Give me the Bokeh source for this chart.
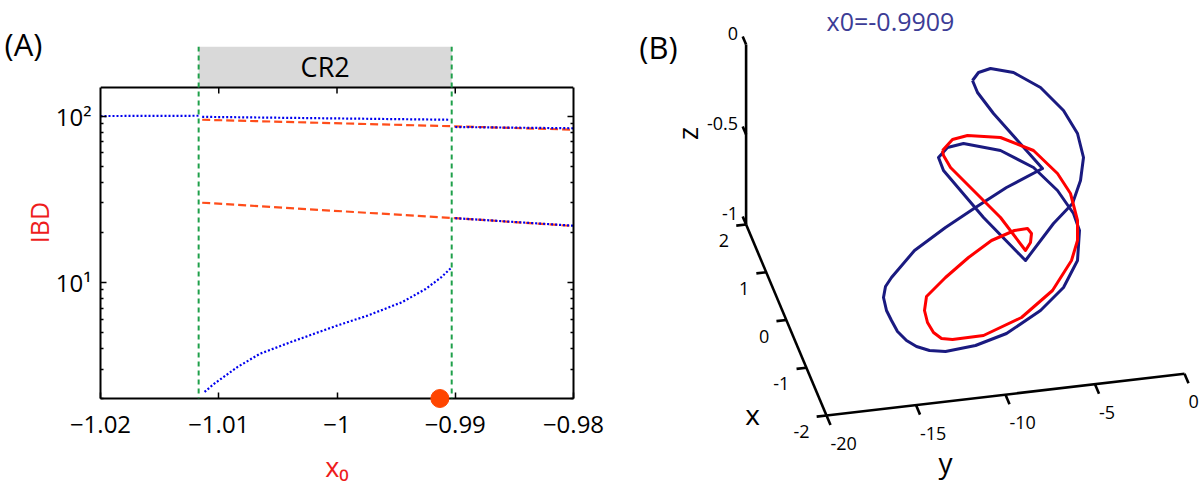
import math
from bokeh.plotting import figure
from bokeh.models import Range1d, LogAxis, FixedTicker, Span, Label, LinearScale
from bokeh.embed import file_html
from bokeh.resources import INLINE
from bokeh.core.properties import value

FONT = "Open Sans"

# ---------------- Panel A data ----------------
x0_ticks = [-1.02, -1.01, -1.00, -0.99, -0.98]
x0_tick_labels = ["−1.02", "−1.01", "−1", "−0.99", "−0.98"]
ibd_ticks = [10, 100]
ibd_tick_labels = ["10¹", "10²"]
ibd_minor_ticks = [2, 3, 4, 5, 6, 7, 8, 9, 20, 30, 40, 50, 60, 70, 80, 90]
ibd_limits = [2.0, 148.5]
band_top = 262.0
cr2_bounds = [-1.0117, -0.9903]
x0_marked = -0.9913

blue_upper_1_x = [-1.0200, -1.0117]
blue_upper_1_y = [100.0, 100.4]
blue_upper_2_x = [-1.0114, -0.9905]
blue_upper_2_y = [98.9, 95.0]
blue_upper_3_x = [-0.9900, -0.9800]
blue_upper_3_y = [85.9, 84.4]
blue_lower_1_x = [-1.0112, -1.0104, -1.0084, -1.0065, -1.0039, -1.0000,
                  -0.9974, -0.9945, -0.9925, -0.9912, -0.9903]
blue_lower_1_y = [2.19, 2.45, 3.10, 3.72, 4.37, 5.49, 6.31, 7.59, 9.12, 10.7, 12.3]
blue_lower_2_x = [-0.9900, -0.9800]
blue_lower_2_y = [24.3, 21.9]
orange_upper_x = [-1.0114, -0.9900, -0.9800]
orange_upper_y = [95.0, 86.7, 82.8]
orange_lower_x = [-1.0114, -0.9900, -0.9800]
orange_lower_y = [30.1, 24.3, 21.8]

# ---------------- Panel B data ----------------
xb_ticks = [-2, -1, 0, 1, 2]
yb_ticks = [-20, -15, -10, -5, 0]
zb_ticks = [-1, -0.5, 0]
xb_lim = [-2, 2]
yb_lim = [-20, 0]
zb_lim = [-1, 0]
title_b = "x0=-0.9909"
# projected orbits in the view plane (origin at the x=-2, y=-20, z=-1 corner)
blue_orbit_u = [146, 152, 164, 187, 214, 237, 251, 257, 254, 246, 227, 199, 157, 117, 112,
                121, 137, 174, 207, 231, 247, 253, 251, 237, 214, 180, 149, 119, 103,
                90, 80, 71, 65, 60, 57, 59, 65, 88, 119, 149, 180, 216, 191, 167, 151, 146]
blue_orbit_v = [335, 343, 347, 343, 328, 305, 282, 258, 235, 212, 192, 155, 198, 245, 258,
                268, 272, 265, 248, 225, 202, 185, 155, 128, 105, 82, 70, 64, 65,
                69, 75, 84, 95, 105, 118, 129, 138, 165, 188, 208, 228, 247, 275, 302, 323, 335]
red_orbit_u = [116, 126, 141, 174, 207, 231, 244, 251, 251, 245, 226, 195, 157, 126,
               115, 107, 101, 98, 100, 119, 142, 165, 188, 201, 205, 204, 199, 174, 147,
               124, 117, 116]
red_orbit_v = [265, 276, 280, 278, 265, 242, 222, 195, 175, 155, 125, 98, 80, 76,
               77, 83, 93, 105, 119, 138, 158, 175, 185, 187, 182, 173, 165, 198, 225,
               248, 260, 265]

BLUE = "#0000ee"
ORANGE = "#ff4d1a"
GREEN = "#1fa04a"
RED = "#ee1c1c"

# layout of panel A's frame (pixels)
FL, FT, FW, FH = 100, 46, 473, 352
CANVAS_W = 1200

p = figure(frame_width=FW, frame_height=FH,
           x_range=Range1d(x0_ticks[0], x0_ticks[-1]),
           y_range=Range1d(ibd_limits[0], band_top),
           y_axis_type="log", output_backend="svg", toolbar_location=None,
           min_border_left=FL, min_border_right=CANVAS_W - FL - FW, min_border_top=FT,
           min_border_bottom=84)
p.grid.visible = False
p.outline_line_color = None
p.background_fill_color = "white"


def style_axis(ax):
    ax.axis_line_width = 2
    ax.axis_line_color = "black"
    ax.major_tick_in = 6
    ax.major_tick_out = 0
    ax.minor_tick_in = 3
    ax.minor_tick_out = 0
    ax.major_tick_line_width = 1.5
    ax.minor_tick_line_width = 1.5
    ax.major_tick_line_color = "black"
    ax.minor_tick_line_color = "black"
    ax.major_label_text_font = FONT
    ax.major_label_text_font_size = "24px"
    ax.major_label_text_color = "black"


xa = p.xaxis[0]
style_axis(xa)
xa.ticker = FixedTicker(ticks=x0_ticks)
xa.major_label_overrides = {t: l for t, l in zip(x0_ticks, x0_tick_labels)}
xa.minor_tick_line_color = None
xa.major_label_standoff = 17
xa.axis_label = "x₀"
xa.axis_label_text_color = RED
xa.axis_label_text_font = FONT
xa.axis_label_text_font_size = "27px"
xa.axis_label_text_font_style = "normal"
xa.axis_label_standoff = 12

ya = p.yaxis[0]
style_axis(ya)
ya.ticker = FixedTicker(ticks=ibd_ticks, minor_ticks=ibd_minor_ticks)
ya.major_label_overrides = {t: l for t, l in zip(ibd_ticks, ibd_tick_labels)}
ya.bounds = tuple(ibd_limits)
ya.major_label_standoff = 9
ya.axis_label = "IBD"
ya.axis_label_text_color = RED
ya.axis_label_text_font = FONT
ya.axis_label_text_font_size = "25px"
ya.axis_label_text_font_style = "normal"
ya.axis_label_standoff = -3

ra = LogAxis(ticker=FixedTicker(ticks=ibd_ticks, minor_ticks=ibd_minor_ticks),
             bounds=tuple(ibd_limits))
style_axis(ra)
ra.major_label_text_alpha = 0
ra.major_label_text_font_size = "12px"
p.add_layout(ra, "right")

# CR2 band above the frame
p.quad(left=[cr2_bounds[0]], right=[cr2_bounds[1]], bottom=[ibd_limits[1]], top=[band_top],
       fill_color="#d9d9d9", line_color=None)
p.segment(x0=[x0_ticks[0]], y0=[ibd_limits[1]], x1=[x0_ticks[-1]], y1=[ibd_limits[1]],
          line_color="black", line_width=2)
tick_drop = 10 ** (-6 / 166.5)
p.segment(x0=x0_ticks[1:-1], y0=[ibd_limits[1]] * 3, x1=x0_ticks[1:-1],
          y1=[ibd_limits[1] * tick_drop] * 3, line_color="black", line_width=1.5)

for xs, ys in [(orange_upper_x, orange_upper_y), (orange_lower_x, orange_lower_y)]:
    p.line(xs, ys, line_color=ORANGE, line_width=2.2, line_dash="8 4")
for xs, ys in [(blue_upper_1_x, blue_upper_1_y), (blue_upper_2_x, blue_upper_2_y),
               (blue_upper_3_x, blue_upper_3_y), (blue_lower_1_x, blue_lower_1_y),
               (blue_lower_2_x, blue_lower_2_y)]:
    p.line(xs, ys, line_color=BLUE, line_width=2.2, line_dash="2 2")

for b in cr2_bounds:
    p.add_layout(Span(location=b, dimension="height", line_color=GREEN,
                      line_width=2, line_dash="5 4"))

p.add_layout(Label(x=sum(cr2_bounds) / 2, y=math.sqrt(ibd_limits[1] * band_top), text="CR2",
                   text_align="center", text_baseline="middle", text_font=FONT,
                   text_font_size="27px", text_color="black"))

p.scatter([x0_marked], [ibd_limits[0]], size=18, color="#ff4500", level="overlay")

# ================= Panel B (oblique 3-D view, drawn on extra ranges) =================
# view coordinates: u to the right, v upwards, origin at the (x=-2, y=-20, z=-1) corner
CORNER_X, CORNER_Y = 826, 415
p.extra_x_ranges = {"b": Range1d(FL - CORNER_X, FL + FW - CORNER_X)}
p.extra_y_ranges = {"b": Range1d(CORNER_Y - (FT + FH), CORNER_Y - FT)}
p.extra_x_scales = {"b": LinearScale()}
p.extra_y_scales = {"b": LinearScale()}
B = dict(x_range_name="b", y_range_name="b", level="overlay")

EX = (-20.1, 47.75)
EY = (17.9, 2.085)
EZ = (0.0, 180.0)


def proj(x, y, z):
    dx, dy, dz = x - xb_lim[0], y - yb_lim[0], z - zb_lim[0]
    return (dx * EX[0] + dy * EY[0] + dz * EZ[0], dx * EX[1] + dy * EY[1] + dz * EZ[1])


# panel letter (A)
p.text(x=[23 - CORNER_X], y=[CORNER_Y - 43], text=["(A)"], text_align="center",
       text_baseline="middle", text_font=value(FONT), text_font_size="31px",
       text_color="black", **B)

AX_W = 2.6
a0 = proj(xb_lim[0], yb_lim[0], zb_lim[0])
ax_x1 = proj(xb_lim[1], yb_lim[0], zb_lim[0])
ay_1 = proj(xb_lim[0], yb_lim[1], zb_lim[0])
az_1 = proj(xb_lim[1], yb_lim[0], zb_lim[1])
p.segment(x0=[a0[0], a0[0], ax_x1[0]], y0=[a0[1], a0[1], ax_x1[1]],
          x1=[ax_x1[0], ay_1[0], az_1[0]], y1=[ax_x1[1], ay_1[1], az_1[1]],
          line_color="black", line_width=AX_W, **B)

tx0 = [proj(t, yb_lim[0], zb_lim[0]) for t in xb_ticks]
tx1 = [proj(t, yb_lim[0] - 0.55, zb_lim[0]) for t in xb_ticks]
ty0 = [proj(xb_lim[0], t, zb_lim[0]) for t in yb_ticks]
ty1 = [proj(xb_lim[0] - 0.2, t, zb_lim[0]) for t in yb_ticks]
tz0 = [proj(xb_lim[1], yb_lim[0], t) for t in zb_ticks]
tz1 = [proj(xb_lim[1] + 0.17, yb_lim[0], t) for t in zb_ticks]
for s0, s1 in [(tx0, tx1), (ty0, ty1), (tz0, tz1)]:
    p.segment(x0=[q[0] for q in s0], y0=[q[1] for q in s0],
              x1=[q[0] for q in s1], y1=[q[1] for q in s1],
              line_color="black", line_width=AX_W, **B)


def fmt(t):
    return "%g" % t


TICK_FS = "18px"
p.text(x=[q[0] for q in tx0], y=[q[1] for q in tx0], text=[fmt(t) for t in xb_ticks],
       x_offset=-17, y_offset=16, text_align="right", text_baseline="middle",
       text_font=value(FONT), text_font_size=TICK_FS, text_color="black", **B)
p.text(x=[q[0] for q in ty0], y=[q[1] for q in ty0], text=[fmt(t) for t in yb_ticks],
       x_offset=4, y_offset=28, text_align="left", text_baseline="middle",
       text_font=value(FONT), text_font_size=TICK_FS, text_color="black", **B)
p.text(x=[q[0] for q in tz0], y=[q[1] for q in tz0], text=[fmt(t) for t in zb_ticks],
       x_offset=-8, y_offset=-11, text_align="right", text_baseline="middle",
       text_font=value(FONT), text_font_size=TICK_FS, text_color="black", **B)

p.text(x=[-74], y=[2], text=["x"], text_align="center", text_baseline="middle",
       text_font=value(FONT), text_font_size="28px", text_color="black", **B)
p.text(x=[119], y=[-46], text=["y"], text_align="center", text_baseline="middle",
       text_font=value(FONT), text_font_size="28px", text_color="black", **B)
p.text(x=[-140], y=[282], text=["z"], angle=math.pi / 2, text_align="center",
       text_baseline="middle", text_font=value(FONT), text_font_size="28px",
       text_color="black", **B)

p.line(blue_orbit_u, blue_orbit_v, line_color="#1a1a80", line_width=3, line_join="round", **B)
p.line(red_orbit_u, red_orbit_v, line_color="#ff0000", line_width=3, line_join="round", **B)

p.text(x=[64], y=[395], text=[title_b], text_align="center", text_baseline="middle",
       text_font=value(FONT), text_font_size="25px", text_color="#3c3c96", **B)
p.text(x=[-168], y=[369], text=["(B)"], text_align="center", text_baseline="middle",
       text_font=value(FONT), text_font_size="31px", text_color="black", **B)

open("out.html", "w").write(file_html(p, INLINE))
